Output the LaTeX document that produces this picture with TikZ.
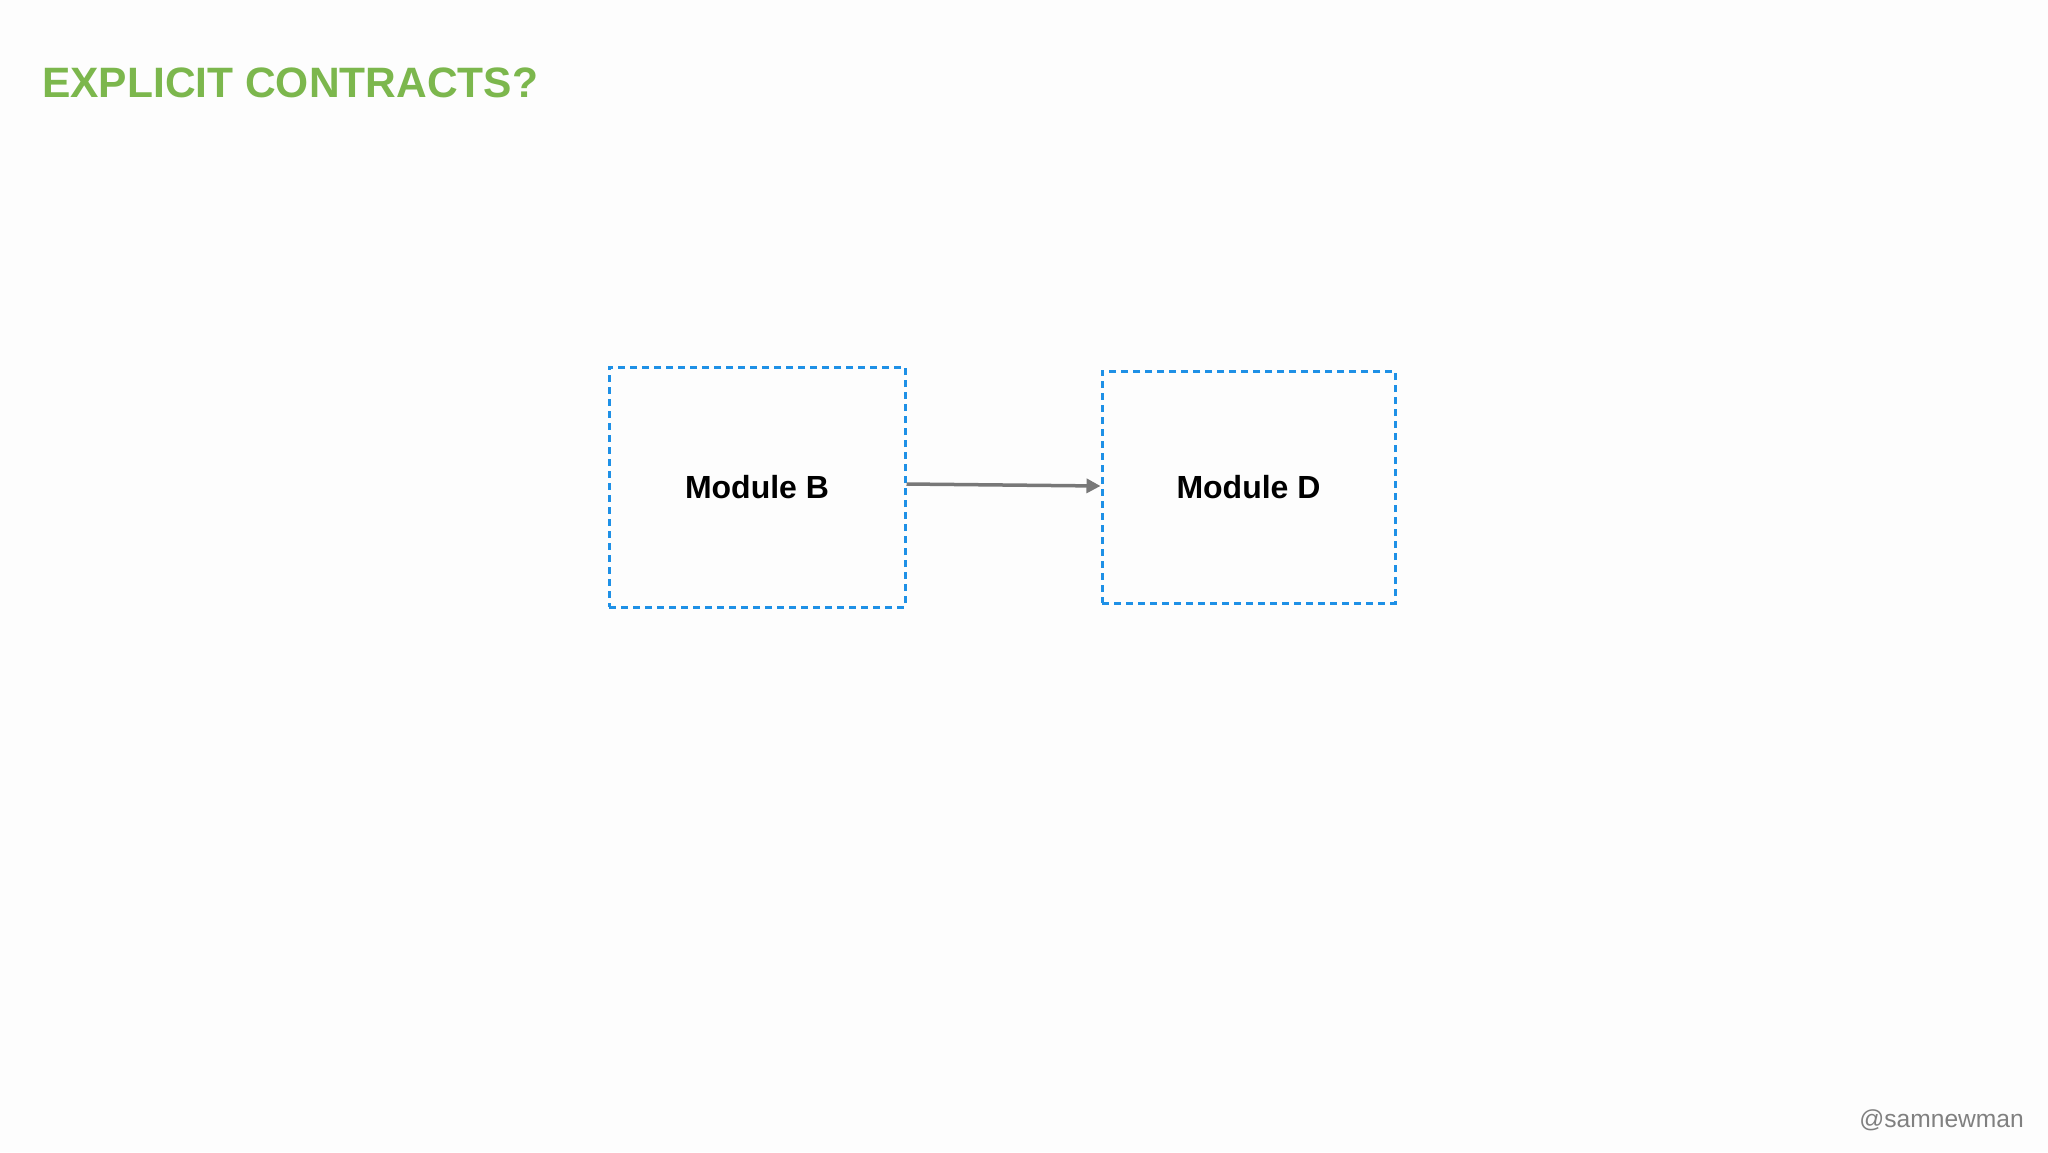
\documentclass[tikz,border=0pt]{standalone}
\usepackage{fontspec}
\setmainfont{Liberation Sans}
\usetikzlibrary{arrows.meta}
\definecolor{titlegreen}{RGB}{124,183,77}
\definecolor{boxblue}{RGB}{30,144,230}
\definecolor{arrowgray}{RGB}{120,120,120}
\definecolor{handlegray}{RGB}{128,128,128}
\definecolor{bgwhite}{RGB}{253,253,253}
\tikzset{
  modbox/.style={draw=boxblue, line width=3pt, dash pattern=on 7pt off 5pt,
    font=\fontsize{32}{38}\selectfont\bfseries, text=black, inner sep=0pt},
  conn/.style={draw=arrowgray, line width=3.5pt, -{Triangle[length=14pt,width=14pt]}},
  titletext/.style={font=\fontsize{42.5}{50}\selectfont\bfseries, text=titlegreen, inner sep=0pt},
  handle/.style={font=\fontsize{24.6}{28}\selectfont, text=handlegray, inner sep=0pt}
}
\begin{document}
\begin{tikzpicture}[x=1pt,y=-1pt]
\fill[bgwhite] (0,0) rectangle (2048,1152);
\useasboundingbox (0,0) rectangle (2048,1152);
\node[titletext, anchor=base west] (title) at (42,97) {EXPLICIT CONTRACTS?};
\node[modbox, minimum width=296pt, minimum height=240pt] (B) at (757,487) {Module B};
\node[modbox, minimum width=293pt, minimum height=232pt] (D) at (1248.5,487) {Module D};
\draw[conn] ([yshift=3pt]B.east) -- ([yshift=1pt]D.west);
\node[handle, anchor=base east] (handle) at (2024,1127) {@samnewman};
\end{tikzpicture}
\end{document}
